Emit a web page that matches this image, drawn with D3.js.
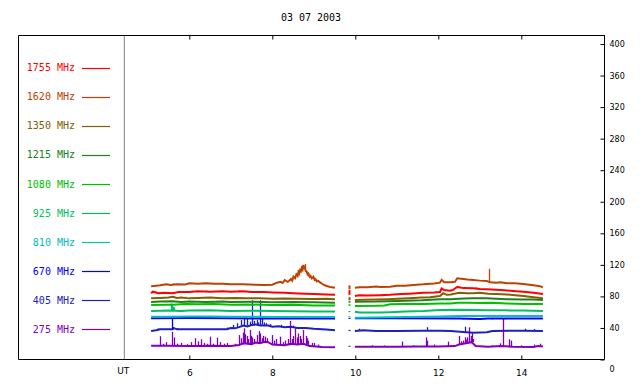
<!DOCTYPE html>
<html><head><meta charset="utf-8">
<script src="https://cdn.jsdelivr.net/npm/d3@7"></script>
<style>body{margin:0;background:#fff}svg{display:block}</style>
</head><body><svg id="c" width="640" height="384"></svg>
<script>
const title = "03 07 2003";
const freqs = ["1755 MHz","1620 MHz","1350 MHz","1215 MHz","1080 MHz","925 MHz","810 MHz","670 MHz","405 MHz","275 MHz"];
const colors = ["#ff0000","#c04000","#806000","#208020","#00c000","#00c060","#00c0c0","#0000ff","#2020c0","#8000c0"];
const xTicks = [6,8,10,12,14];
const yTicks = [0,40,80,120,160,200,240,280,320,360,400];
const gapTime = 9.86;

// series: [UT hour, value]
const l1755 = [[5.08,84],[5.12,86],[5.2,85],[5.25,84],[5.4,84.5],[5.6,84],[5.75,85.5],[6.0,85.5],[6.2,86.5],[6.5,86],[6.8,86.5],[7.0,86],[7.3,86.5],[7.5,85.5],[7.8,85.5],[8.0,85],[8.3,84.5],[8.5,84],[8.8,83.5],[9.0,83],[9.3,82.5],[9.51,82]];
const r1755 = [[9.99,80.5],[10.1,81.5],[10.3,81],[10.6,81.5],[10.84,82],[11.1,83],[11.3,83.5],[11.64,84.7],[11.9,85],[12.04,85.5],[12.08,90],[12.14,88],[12.28,87.2],[12.35,88],[12.4,90],[12.46,92],[12.6,90.5],[12.84,90.2],[13.0,89.5],[13.17,89],[13.5,88],[13.8,87],[14.05,86],[14.3,84.5],[14.52,83]];
const l1620 = [[5.08,93],[5.2,93.5],[5.3,94],[5.45,95.3],[5.55,94.5],[5.7,95.3],[5.9,95],[6.0,96.6],[6.2,96],[6.4,96.6],[6.6,96],[6.8,96],[7.0,95.3],[7.3,95.5],[7.6,94.9],[7.8,94.5],[8.0,94.9],[8.11,97.4],[8.2,98.5],[8.25,97],[8.3,100.8],[8.37,98.5],[8.4,99.5],[8.45,102],[8.48,100],[8.51,105],[8.55,103],[8.58,108],[8.61,106],[8.63,111],[8.65,109],[8.67,113.4],[8.69,112],[8.71,116],[8.73,114],[8.75,119.8],[8.77,116],[8.79,115],[8.81,112],[8.83,111.3],[8.85,108],[8.87,109],[8.9,105],[8.92,106],[8.95,103],[8.99,105],[9.02,101],[9.04,102],[9.07,99],[9.1,100],[9.15,97.8],[9.2,96],[9.23,95],[9.31,93.2],[9.4,92],[9.51,91]];
const r1620 = [[9.99,91],[10.1,91.5],[10.3,91.5],[10.5,92.5],[10.6,92],[10.84,92.3],[11.0,93.5],[11.2,93.5],[11.4,94.5],[11.64,95.3],[11.9,96.5],[12.04,97.4],[12.08,101],[12.14,98],[12.3,97.8],[12.4,98.6],[12.46,103],[12.55,102.5],[12.7,101.5],[12.84,100.8],[13.0,100],[13.17,99.5],[13.25,97.8],[13.4,97.4],[13.5,98],[13.65,96.6],[13.85,96.6],[14.05,95.7],[14.3,94],[14.45,93],[14.52,91.5]];
const l1350 = [[5.08,77.5],[5.3,78],[5.5,78.5],[5.6,79.6],[5.7,78],[5.8,78.5],[6.0,77.5],[6.2,78],[6.5,78.5],[6.8,77.6],[7.1,78],[7.4,77.5],[7.7,77.8],[8.0,77],[8.3,77.4],[8.6,77],[9.0,76.7],[9.3,76.9],[9.51,76.5]];
const r1350 = [[9.99,75.4],[10.2,75.6],[10.5,76],[10.8,76.5],[11.0,77],[11.3,77.8],[11.6,78.5],[11.8,79],[12.04,80.5],[12.12,84],[12.2,82],[12.3,82.5],[12.5,84.7],[12.7,84],[12.84,84],[13.0,84.5],[13.2,83.5],[13.4,83],[13.65,82.4],[13.85,81.5],[14.05,80.5],[14.3,79],[14.52,77.6]];
const l1215 = [[5.08,73],[5.3,73.5],[5.6,74],[5.8,73],[6.0,73.5],[6.4,73],[6.8,73.5],[7.0,73],[7.5,73.3],[8.0,72.5],[8.5,72.8],[9.0,72.5],[9.51,72]];
const r1215 = [[9.99,73.3],[10.5,73.5],[10.8,74],[11.2,74.5],[11.6,75],[12.04,76.3],[12.3,76.5],[12.5,77],[12.8,77.5],[13.17,77.5],[13.4,77],[13.65,76.5],[14.05,76],[14.3,76],[14.52,75.4]];
const l1080 = [[5.08,69],[5.4,69.3],[5.6,69.5],[5.9,70.3],[6.2,70],[6.6,70.3],[7.0,69.5],[7.4,69.8],[8.0,69],[8.5,69.3],[9.0,68.5],[9.51,68.5]];
const r1080 = [[9.99,67.8],[10.5,68],[10.7,68.5],[10.84,70],[11.2,70.3],[11.64,70.3],[12.04,71],[12.3,71],[12.46,72],[12.7,72],[13.0,71.5],[13.3,71.8],[13.65,71],[14.05,70.5],[14.52,70.3]];
const l925 = [[5.08,61.5],[5.3,61.8],[5.5,62],[5.8,61.5],[6.0,62],[6.5,62.3],[7.0,61.5],[7.5,61.8],[8.0,61.5],[8.5,61.3],[9.0,61],[9.51,61]];
const r925 = [[9.99,60.6],[10.1,59.5],[10.6,59.5],[10.84,60],[11.2,61],[11.64,61.5],[12.04,62.7],[12.5,63],[12.9,62.7],[13.2,62.5],[13.6,62.3],[14.05,62],[14.52,61.5]];
const l810 = [[5.08,54.3],[5.5,54.3],[6.0,54.5],[6.5,54.5],[7.0,54.3],[8.0,54],[9.0,54],[9.51,54]];
const r810 = [[9.99,53],[10.84,53.5],[11.2,54],[12.04,54.5],[12.5,55],[13.2,55],[14.05,55],[14.52,55.1]];
const l670 = [[5.08,52.2],[6.0,52.5],[7.0,52.2],[8.0,52],[9.0,52],[9.51,52]];
const r670 = [[9.99,52.2],[11.0,52.2],[12.5,52],[13.0,51.5],[13.2,52],[14.52,52]];
const l405 = [[5.08,36],[5.2,37],[5.3,38.2],[5.6,38.2],[5.62,40],[5.7,38.2],[6.0,38.5],[6.5,38.2],[6.9,38.5],[7.0,40],[7.1,39.5],[7.2,41],[7.3,43],[7.4,42],[7.5,43.7],[7.6,44.5],[7.7,43],[7.9,43],[8.0,41.6],[8.15,42],[8.3,40.8],[8.45,41.5],[8.6,40],[8.8,40],[9.0,39],[9.3,38],[9.51,37]];
const r405 = [[9.99,36.1],[10.2,37],[10.5,36],[11.0,36.1],[11.6,36.5],[12.04,36.5],[12.3,36.1],[12.6,35],[12.84,34],[13.17,34.5],[13.3,36.1],[14.05,36.5],[14.52,36.1]];
const l275 = [[5.08,17.5],[5.5,17.5],[6.0,17],[6.5,17.5],[7.0,17],[7.2,18.5],[7.3,20.5],[7.5,19.5],[7.6,21.5],[7.7,20.5],[7.8,22.5],[7.9,22],[8.0,19],[8.3,18],[8.45,20],[8.6,19],[8.75,20],[8.9,17],[9.2,16],[9.51,15.5]];
const r275 = [[9.99,16.3],[10.5,16.3],[11.0,16.3],[11.5,16.5],[12.0,16.5],[12.4,17],[12.5,19],[12.6,20],[12.7,21],[12.8,22],[12.9,17],[13.2,16.3],[13.5,17],[13.8,16.3],[14.3,16],[14.4,17],[14.52,16.5]];

// spikes: [UT hour, from, to]
const k1755 = [[6.4,86,87.5],[7.2,86,87.5],[12.9,90,91.5]];
const k1620 = [[13.23,99.5,115],[8.7,113,118],[8.78,115,121],[5.6,95,96.6],[7.9,94.5,96]];
const k1350 = [[5.6,78,80.5],[5.9,78,79.5]];
const k1215 = [];
const k1080 = [];
const k925 = [[5.57,62,71],[5.59,62,69],[5.61,62,67],[5.63,62,66]];
const k810 = [];
const k670 = [[5.59,52.2,38],[12.6,52.2,50.9],[12.9,52.2,50.9],[13.3,52,50.9],[13.6,52,50.9]];
const k405 = [[5.25,37.5,39.5],[5.7,38.2,40],[6.9,38.5,40.5],[7.05,40,44],[7.15,40,46],[7.25,43,50],[7.33,43,55],[7.4,43,52],[7.46,43,48],[7.51,43,75],[7.55,43,49],[7.62,43,50],[7.66,43,47],[7.7,43,75],[7.75,43,52],[7.8,43,47],[7.86,43,46],[7.95,42,45],[8.2,41,44],[8.5,40.5,43],[10.1,36,39],[11.73,36.5,41],[12.64,35,41.6],[14.1,36.5,39],[14.3,36.3,38.5]];
const k275 = [[5.29,17.5,29.5],[5.36,17.5,20],[5.45,17.5,22],[5.59,17.5,35],[5.62,17.5,28],[5.7,17.5,20],[5.8,17.5,21],[5.95,17,19.5],[6.05,17,22],[6.14,17,27],[6.2,17,23],[6.28,17,25.6],[6.35,17,21],[6.42,17,20],[6.5,17.5,28.9],[6.58,17.5,20],[6.66,17.5,27.7],[6.75,17.5,22],[6.83,17.5,20],[6.9,17,21],[7.1,17.5,20],[7.2,18.5,31],[7.25,18.5,27],[7.29,19,34],[7.32,20.5,39.5],[7.35,20.5,32],[7.38,20.5,30],[7.42,20,26],[7.46,19.5,37.4],[7.49,19.5,30],[7.52,19.5,28],[7.57,20,26],[7.64,20.5,31],[7.67,21,36],[7.7,20.5,33],[7.75,20.5,27],[7.78,21,30],[7.82,21,29],[7.88,22,27],[7.99,19,31],[8.05,18.5,24],[8.1,18,26],[8.19,18,29],[8.25,18,22],[8.3,18,24],[8.38,18,26],[8.43,18,49],[8.47,19,26],[8.5,18.5,30],[8.55,18.5,39.5],[8.6,19,28],[8.63,19,33],[8.67,19,30],[8.7,19,26],[8.75,19,37.4],[8.8,19,30],[8.84,18,27],[8.87,17,23.8],[8.95,17,21],[9.0,17,21],[9.1,16.5,19],
  [10.4,16.3,18],[10.7,16.3,17.8],[11.12,16.3,22.7],[11.4,16.5,18],[11.7,16.5,28],[11.73,16.5,24],[11.9,16.5,19],[12.24,16.5,22.6],[12.51,19,30],[12.55,19,23],[12.6,20,24],[12.64,20,28.1],[12.67,20,25],[12.7,20,28.1],[12.73,21,26],[12.75,22,40.8],[12.78,22,30],[12.8,22,33.2],[12.84,22,26],[13.3,16.5,18],[13.49,17,20.5],[13.57,16.3,52.5],[13.71,16.3,25.6],[13.76,16.3,24],[14.0,16,18],[14.3,16,19],[14.45,17,20]];

// isolated samples near the data gap: [from, to]
const gapMarks = [[82,88],[89,94],[75,79],[72,74],[68,70],[60,61.5],[54,55],[51.5,53],[36,37.5],[16,17.5]];

const series = [
  {l:l1755,r:r1755,k:k1755},{l:l1620,r:r1620,k:k1620},{l:l1350,r:r1350,k:k1350},
  {l:l1215,r:r1215,k:k1215},{l:l1080,r:r1080,k:k1080},{l:l925,r:r925,k:k925},
  {l:l810,r:r810,k:k810},{l:l670,r:r670,k:k670},{l:l405,r:r405,k:k405},{l:l275,r:r275,k:k275}
];

const svg = d3.select("#c");
const X0 = 18, X1 = 604, Y0 = 35, Y1 = 359.5, UTX = 124.3;
const x = d3.scaleLinear().domain([6,14]).range([189.3,521.3]);
const y = d3.scaleLinear().domain([0,400]).range([359.5,44]);
const mono = "DejaVu Sans Mono, monospace";
const sans = "DejaVu Sans, sans-serif";

svg.append("text").attr("x",311).attr("y",21).attr("text-anchor","middle")
  .attr("font-family",mono).attr("font-size",10).text(title);

// legend
freqs.forEach((f,i)=>{
  const cy = 67.5 + i*29.1;
  svg.append("text").attr("x",75).attr("y",cy+3.6).attr("text-anchor","end")
    .attr("font-family",mono).attr("font-size",10).attr("fill",colors[i]).text(f);
  svg.append("line").attr("x1",82).attr("x2",110).attr("y1",Math.round(cy)+0.5).attr("y2",Math.round(cy)+0.5)
    .attr("stroke",colors[i]).attr("stroke-width",1.2);
});

// UT separator
svg.append("line").attr("x1",UTX).attr("x2",UTX).attr("y1",Y0).attr("y2",Y1)
  .attr("stroke","#808080").attr("stroke-width",1);

// data
const line = d3.line().x(d=>x(d[0])).y(d=>y(d[1]));
const g = svg.append("g");
series.slice().reverse().forEach((s,ri)=>{
  const i = series.length-1-ri;
  const c = colors[i];
  [s.l,s.r].forEach(arr=>{
    g.append("path").attr("d",line(arr)).attr("fill","none").attr("stroke",c).attr("stroke-width",2);
  });
  g.selectAll(null).data(s.k).enter().append("line")
    .attr("x1",d=>Math.round(x(d[0]))+0.5).attr("x2",d=>Math.round(x(d[0]))+0.5)
    .attr("y1",d=>y(d[1])).attr("y2",d=>y(d[2])).attr("stroke",c).attr("stroke-width",1.3);
  const gm = gapMarks[i];
  g.append("line").attr("x1",x(gapTime)).attr("x2",x(gapTime))
    .attr("y1",y(gm[0])).attr("y2",y(gm[1])).attr("stroke",c).attr("stroke-width",2);
});

// frame
svg.append("path").attr("d",`M${X1+0.5},${Y0+0.5}H${X0+0.5}V${Y1}H${X1+0.5}V${Y0}`)
  .attr("fill","none").attr("stroke","#000").attr("stroke-width",1);

// right axis
const ya = svg.append("g").attr("transform",`translate(${X1+0.5},0)`)
  .call(d3.axisRight(y).tickValues(yTicks).tickSizeInner(-4).tickSizeOuter(0).tickPadding(5));
ya.select(".domain").remove();
ya.selectAll("text").attr("font-family",sans).attr("font-size",8);
ya.selectAll(".tick").filter(d=>d===0).select("text").attr("dy","1.5em");

// bottom axis
const xa = svg.append("g").attr("transform",`translate(0,${Y1})`)
  .call(d3.axisBottom(x).tickValues(xTicks).tickSizeInner(-4).tickSizeOuter(0).tickPadding(10));
xa.select(".domain").remove();
xa.selectAll("text").attr("font-family",sans).attr("font-size",9);

// top ticks
const ta = svg.append("g").attr("transform",`translate(0,${Y0+0.5})`)
  .call(d3.axisTop(x).tickValues(xTicks).tickSizeInner(-4).tickSizeOuter(0).tickFormat(""));
ta.select(".domain").remove();

svg.append("text").attr("x",UTX-1).attr("y",374).attr("text-anchor","middle")
  .attr("font-family",sans).attr("font-size",9).text("UT");
</script></body></html>
